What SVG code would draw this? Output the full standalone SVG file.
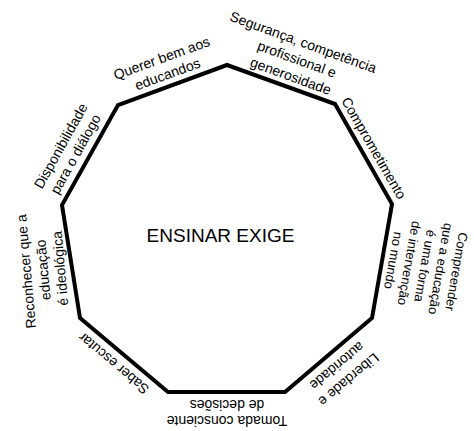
<svg xmlns="http://www.w3.org/2000/svg" width="474" height="431" viewBox="0 0 474 431">
<style>
.frame{fill:none;stroke:#000;stroke-width:4;stroke-linejoin:miter}
.lbl{font-family:"Liberation Sans",Arial,sans-serif;font-size:14px;fill:#000;text-anchor:middle}
.sm{font-size:13px}
.title{font-family:"Liberation Sans",Arial,sans-serif;font-size:19px;fill:#000;text-anchor:middle}
</style>
<rect width="474" height="431" fill="#fff"/>
<g id="connectors">
<polygon class="frame" points="227,65 335,104 392,204 372,318 285,392 168,392 80,318 62,205 118,105"/>
</g>
<g id="center"><text class="title" x="220.5" y="242">ENSINAR EXIGE</text></g>
<g id="querer" transform="translate(164.5,66) rotate(-20)">
<text class="lbl" x="0" y="-3.5">Querer bem aos</text>
<text class="lbl" x="0" y="13.5">educandos</text>
</g>
<g id="seguranca" transform="translate(297,59) rotate(20)">
<text class="lbl" x="0" y="-13">Segurança, competência</text>
<text class="lbl" x="0" y="5">profissional e</text>
<text class="lbl" x="0" y="23">generosidade</text>
</g>
<g id="comprometimento" transform="translate(374,148) rotate(60)">
<text class="lbl" x="0" y="5">Comprometimento</text>
</g>
<g id="compreender" transform="translate(425,266) rotate(100)">
<text class="lbl sm" x="0" y="-27.5">Compreender</text>
<text class="lbl sm" x="0" y="-11.5">que a educação</text>
<text class="lbl sm" x="0" y="4.5">é uma forma</text>
<text class="lbl sm" x="0" y="20.5">de intervenção</text>
<text class="lbl sm" x="0" y="36.5">no mundo</text>
</g>
<g id="liberdade" transform="translate(343,373) rotate(140)">
<text class="lbl" x="0" y="-4">Liberdade e</text>
<text class="lbl" x="0" y="14">autoridade</text>
</g>
<g id="tomada" transform="translate(227,413) rotate(180)">
<text class="lbl" x="0" y="-3">Tomada consciente</text>
<text class="lbl" x="0" y="13">de decisões</text>
</g>
<g id="saber" transform="translate(113.5,363.5) rotate(-140)">
<text class="lbl" x="0" y="5">Saber escutar</text>
</g>
<g id="reconhecer" transform="translate(43,270) rotate(-95)">
<text class="lbl" x="0" y="-12">Reconhecer que a</text>
<text class="lbl" x="0" y="5">educação</text>
<text class="lbl" x="0" y="22">é ideológica</text>
</g>
<g id="disponibilidade" transform="translate(68,150) rotate(-61)">
<text class="lbl" x="0" y="-3.5">Disponibilidade</text>
<text class="lbl" x="0" y="13.5">para o diálogo</text>
</g>
</svg>
